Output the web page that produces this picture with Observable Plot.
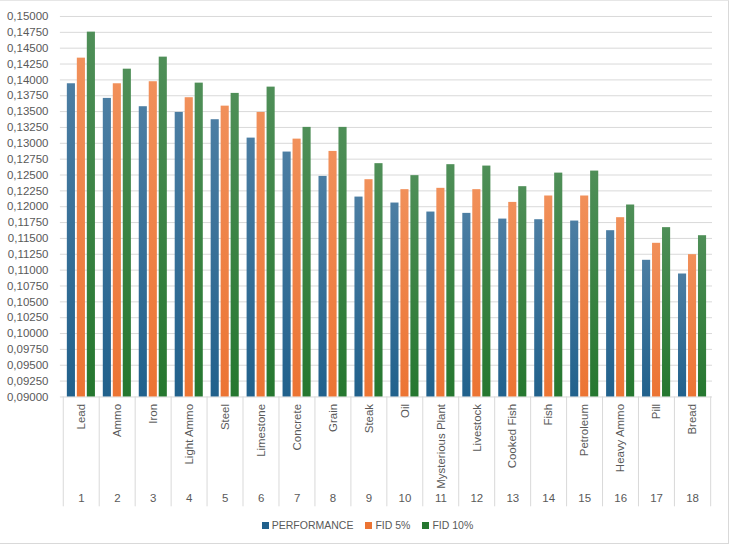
<!DOCTYPE html>
<html>
<head>
<meta charset="utf-8">
<script src="https://cdn.jsdelivr.net/npm/d3@7"></script>
<script src="https://cdn.jsdelivr.net/npm/@observablehq/plot@0.6"></script>
<style>
  html, body { margin: 0; padding: 0; background: #fff; }
  #wrap { position: relative; width: 729px; height: 544px; box-sizing: border-box; border: 1px solid #d9d9d9; border-top-color: #e6e6e6; border-left: none; overflow: hidden; font-family: "Liberation Sans", Arial, sans-serif; }
  #chart svg { display: block; }
  #legend { position: absolute; left: 0; width: 729px; top: 518px; display: flex; justify-content: center; gap: 12px; font-size: 10.5px; color: #595959; padding-left: 6px; box-sizing: border-box; }
  #legend span.item { display: flex; align-items: center; gap: 3px; }
  #legend span.sw { width: 7px; height: 7px; display: inline-block; }
</style>
</head>
<body>
<div id="wrap">
  <div id="chart"></div>
  <div id="legend"></div>
</div>
<script>
const categories = ["Lead","Ammo","Iron","Light Ammo","Steel","Limestone","Concrete","Grain","Steak","Oil","Mysterious Plant","Livestock","Cooked Fish","Fish","Petroleum","Heavy Ammo","Pill","Bread"];
const categoryNumbers = [1,2,3,4,5,6,7,8,9,10,11,12,13,14,15,16,17,18];
const performance = [0.13939,0.13708,0.13577,0.13487,0.13372,0.13082,0.12862,0.12478,0.12152,0.12058,0.11916,0.11895,0.11805,0.11795,0.11774,0.11622,0.11155,0.10939];
const fid5 = [0.14343,0.13939,0.13971,0.13719,0.13586,0.13487,0.13066,0.12872,0.12426,0.12269,0.12290,0.12269,0.12068,0.12169,0.12169,0.11827,0.11423,0.11244];
const fid10 = [0.14753,0.14169,0.14359,0.13949,0.13787,0.13886,0.13251,0.13251,0.12679,0.12490,0.12663,0.12641,0.12316,0.12530,0.12562,0.12027,0.11670,0.11543];
const seriesNames = ["PERFORMANCE","FID 5%","FID 10%"];
const seriesColors = ["#21618c","#ec7433","#25772f"];
const seriesTop = ["#4c7ea3","#f1905a","#4f8f58"];
const yTicks = d3.range(0, 25).map(i => 0.09 + i * 0.0025);

const W = 729, H = 512, mL = 60, mR = 16, mT = 15, mB = 116;
const step = (W - mL - mR) / categories.length;
const barW = 8.4;
const inset = (step - barW) / 2;
const gap = 10;

const rows = c => categories.map((name, i) => ({name, value: c[i]}));
const numOf = new Map(categories.map((c, i) => [c, categoryNumbers[i]]));
const fmt = v => v.toFixed(5).replace(".", ",");

const plot = Plot.plot({
  width: W, height: H,
  marginLeft: mL, marginRight: mR, marginTop: mT, marginBottom: mB,
  style: {fontFamily: "'Liberation Sans', Arial, sans-serif", fontSize: "11px", color: "#595959", background: "transparent"},
  x: {domain: categories, padding: 0, label: null},
  y: {domain: [0.09, 0.15], label: null},
  marks: [
    Plot.ruleY(yTicks, {stroke: "#d9d9d9", strokeWidth: 1}),
    Plot.axisY({ticks: yTicks, tickSize: 0, tickPadding: 12, tickFormat: fmt, fill: "#595959", fontSize: 11.5}),
    Plot.barY(rows(performance), {x: "name", y1: 0.09, y2: "value", fill: "url(#g0)", insetLeft: inset, insetRight: inset, dx: -gap}),
    Plot.barY(rows(fid5), {x: "name", y1: 0.09, y2: "value", fill: "url(#g1)", insetLeft: inset, insetRight: inset}),
    Plot.barY(rows(fid10), {x: "name", y1: 0.09, y2: "value", fill: "url(#g2)", insetLeft: inset, insetRight: inset, dx: gap}),
    Plot.axisX({tickSize: 110, text: null, stroke: "#d9d9d9", dx: -step / 2}),
    Plot.axisX({ticks: [categories[categories.length - 1]], tickSize: 110, text: null, stroke: "#d9d9d9", dx: step / 2}),
    Plot.axisX({tickSize: 0, tickPadding: 7, tickRotate: -90, fill: "#595959", fontSize: 11.5, label: null}),
    Plot.axisX({tickSize: 0, tickPadding: 97, tickFormat: d => numOf.get(d), fill: "#595959", fontSize: 11.5, label: null})
  ]
});

// gradient defs for Excel-like shading
const ns = "http://www.w3.org/2000/svg";
const defs = document.createElementNS(ns, "defs");
seriesColors.forEach((c, i) => {
  const g = document.createElementNS(ns, "linearGradient");
  g.setAttribute("id", "g" + i);
  g.setAttribute("x1", "0"); g.setAttribute("y1", "0");
  g.setAttribute("x2", "0"); g.setAttribute("y2", "1");
  g.setAttribute("gradientUnits", "objectBoundingBox");
  const s1 = document.createElementNS(ns, "stop");
  s1.setAttribute("offset", "0"); s1.setAttribute("stop-color", seriesTop[i]);
  const s2 = document.createElementNS(ns, "stop");
  s2.setAttribute("offset", "1"); s2.setAttribute("stop-color", c);
  g.appendChild(s1); g.appendChild(s2);
  defs.appendChild(g);
});
plot.insertBefore(defs, plot.firstChild);
document.getElementById("chart").appendChild(plot);

const legend = document.getElementById("legend");
seriesNames.forEach((n, i) => {
  const item = document.createElement("span");
  item.className = "item";
  const sw = document.createElement("span");
  sw.className = "sw";
  sw.style.background = seriesColors[i];
  item.appendChild(sw);
  item.appendChild(document.createTextNode(n));
  legend.appendChild(item);
});
</script>
</body>
</html>
